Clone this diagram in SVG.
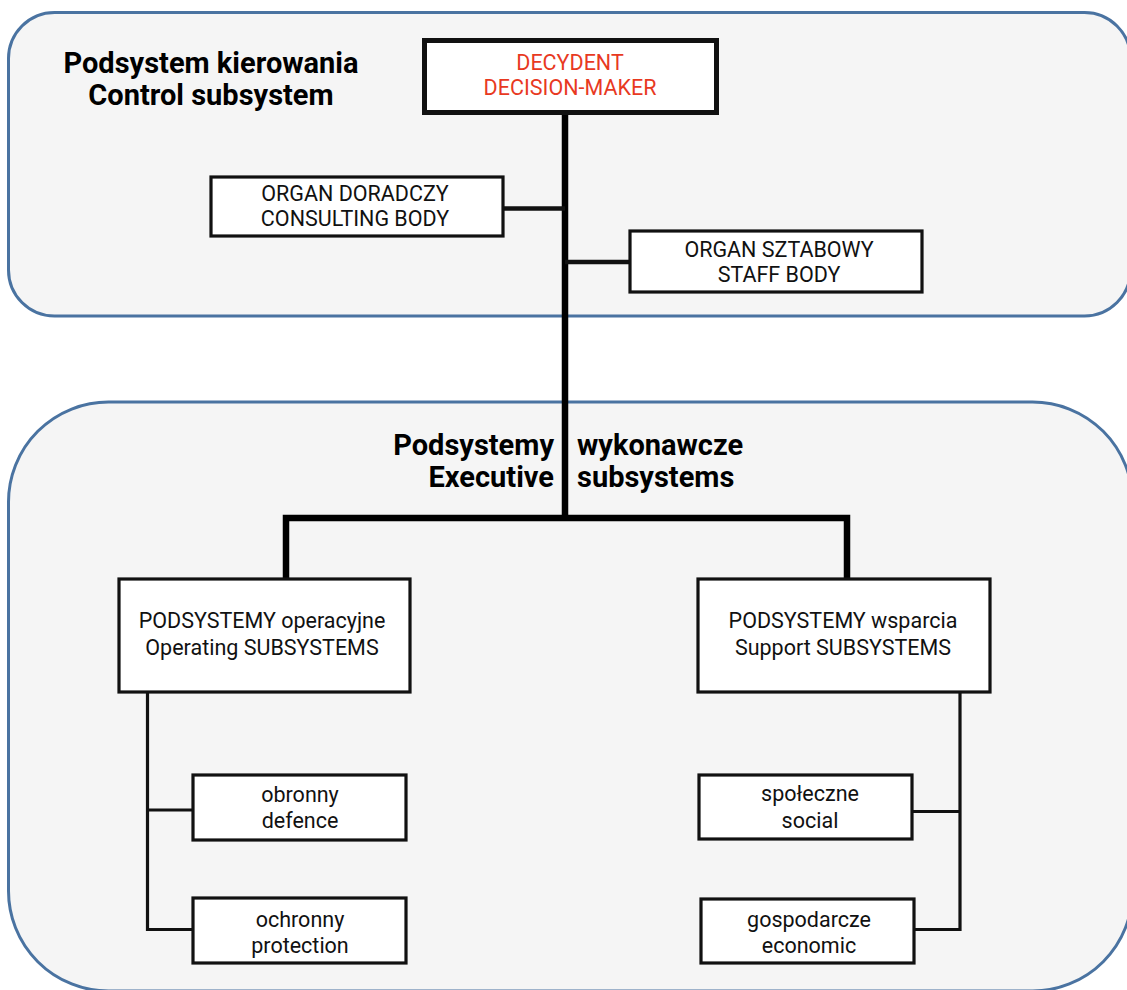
<svg xmlns="http://www.w3.org/2000/svg" width="1127" height="990" viewBox="0 0 1127 990">
  <style>
    .container { fill: #f5f5f5; stroke: #4a73a1; stroke-width: 3; }
    .box { fill: #ffffff; stroke: #111111; stroke-width: 3.2; }
    .boxThick { fill: #ffffff; stroke: #111111; stroke-width: 5; }
    .label { font-family: Roboto, "Liberation Sans", sans-serif; font-size: 21.5px; fill: #111111; text-anchor: middle; }
    .red { fill: #e8391f; }
    .title { font-family: Roboto, "Liberation Sans", sans-serif; font-size: 29px; font-weight: bold; fill: #000000; }
    .thick { fill: none; stroke: #000000; stroke-width: 6.5; stroke-linecap: butt; stroke-linejoin: miter; }
    .mid { fill: none; stroke: #111111; stroke-width: 4.5; }
    .thin { fill: none; stroke: #111111; stroke-width: 3.2; stroke-linejoin: miter; }
  </style>
  <rect width="1127" height="990" fill="#ffffff"/>

  <g id="control-subsystem">
    <rect class="container" x="8.5" y="12.5" width="1122" height="303.5" rx="46" ry="46"/>
    <text class="title" text-anchor="middle"><tspan x="211" y="73">Podsystem kierowania</tspan><tspan x="211" y="105">Control subsystem</tspan></text>
  </g>

  <g id="executive-subsystems">
    <rect class="container" x="8.5" y="402" width="1124" height="589" rx="100" ry="100"/>
    <text class="title" text-anchor="end"><tspan x="554" y="455">Podsystemy</tspan><tspan x="554" y="487">Executive</tspan></text>
    <text class="title" text-anchor="start"><tspan x="577" y="455">wykonawcze</tspan><tspan x="577" y="487">subsystems</tspan></text>
  </g>

  <g id="connectors">
    <line class="thick" x1="565" y1="114" x2="565" y2="518"/>
    <line class="mid" x1="503" y1="208.5" x2="565" y2="208.5"/>
    <line class="mid" x1="565" y1="262" x2="629" y2="262"/>
    <polyline class="thick" points="286,578 286,518 847,518 847,578"/>
    <polyline class="thin" points="147.5,693 147.5,929.5 192,929.5"/>
    <line class="thin" x1="147.5" y1="810" x2="192" y2="810"/>
    <polyline class="thin" points="960,693 960,929.5 915,929.5"/>
    <line class="thin" x1="912" y1="811.5" x2="960" y2="811.5"/>
  </g>

  <g id="decision-maker">
    <rect class="boxThick" x="424.5" y="40.5" width="292" height="72"/>
    <text class="label red"><tspan x="570" y="70">DECYDENT</tspan><tspan x="570" y="95">DECISION-MAKER</tspan></text>
  </g>

  <g id="consulting-body">
    <rect class="box" x="211" y="177" width="292" height="59"/>
    <text class="label"><tspan x="355" y="201">ORGAN DORADCZY</tspan><tspan x="355" y="226">CONSULTING BODY</tspan></text>
  </g>

  <g id="staff-body">
    <rect class="box" x="630" y="231" width="292" height="61"/>
    <text class="label"><tspan x="779" y="257">ORGAN SZTABOWY</tspan><tspan x="779" y="282">STAFF BODY</tspan></text>
  </g>

  <g id="operating-subsystems">
    <rect class="box" x="119" y="579" width="291" height="113"/>
    <text class="label"><tspan x="262" y="628">PODSYSTEMY operacyjne</tspan><tspan x="262" y="655">Operating SUBSYSTEMS</tspan></text>
  </g>

  <g id="support-subsystems">
    <rect class="box" x="698" y="579" width="292" height="113"/>
    <text class="label"><tspan x="843" y="628">PODSYSTEMY wsparcia</tspan><tspan x="843" y="655">Support SUBSYSTEMS</tspan></text>
  </g>

  <g id="defence">
    <rect class="box" x="193" y="775" width="213" height="65"/>
    <text class="label"><tspan x="300" y="802">obronny</tspan><tspan x="300" y="828">defence</tspan></text>
  </g>

  <g id="protection">
    <rect class="box" x="193" y="898" width="213" height="65"/>
    <text class="label"><tspan x="300" y="927">ochronny</tspan><tspan x="300" y="953">protection</tspan></text>
  </g>

  <g id="social">
    <rect class="box" x="699" y="775" width="213" height="64"/>
    <text class="label"><tspan x="810" y="801">społeczne</tspan><tspan x="810" y="828">social</tspan></text>
  </g>

  <g id="economic">
    <rect class="box" x="701" y="899" width="213" height="64"/>
    <text class="label"><tspan x="809" y="927">gospodarcze</tspan><tspan x="809" y="953">economic</tspan></text>
  </g>
</svg>
